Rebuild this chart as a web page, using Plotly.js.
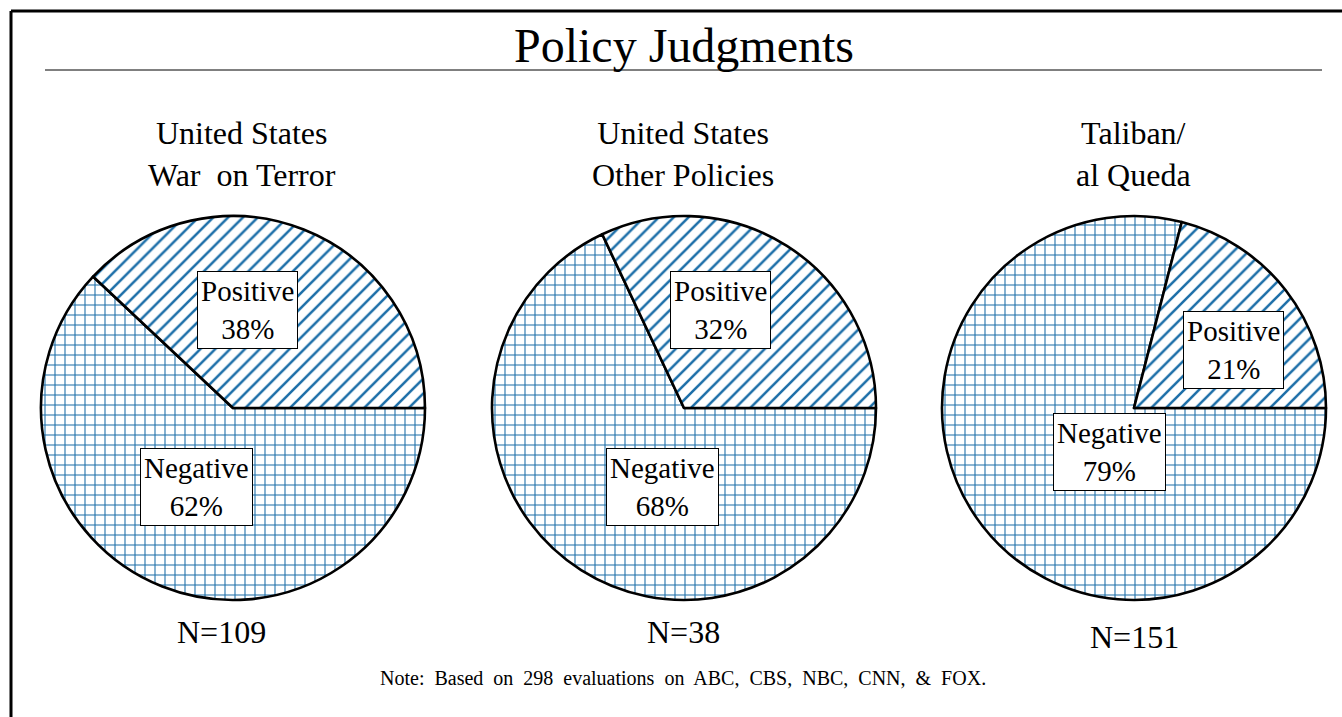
<!DOCTYPE html>
<html>
<head>
<meta charset="utf-8">
<script src="https://cdn.plot.ly/plotly-3.0.1.min.js"></script>
<style>html,body{margin:0;padding:0;background:#fff;}#chart{width:1342px;height:717px;}</style>
</head>
<body>
<div id="chart"></div>
<script>
// ---- data ----
const chartTitle = "Policy Judgments";
const pieTitles = ["United States<br>War&nbsp;&nbsp;on Terror", "United States<br>Other Policies", "Taliban/<br>al Queda"];
const categories = ["Positive", "Negative"];
const positiveValues = [38, 32, 21];
const negativeValues = [62, 68, 79];
const sampleSizes = [109, 38, 151];
const noteText = "Note:&nbsp; Based&nbsp; on&nbsp; 298&nbsp; evaluations&nbsp; on&nbsp; ABC,&nbsp; CBS,&nbsp; NBC,&nbsp; CNN,&nbsp; &amp;&nbsp; FOX.";

// ---- layout helpers ----
const W = 1342, H = 717;
const px = x => x / W;
const py = y => 1 - y / H;
const FONT = "Liberation Serif, Times New Roman, serif";
const HATCH = "#1b6ea8";

const pieBoxes = [[40, 426], [492, 876], [942, 1326]];
const pieTop = 216, pieBottom = 600;
const titleX = [242, 683, 1133];
const nPos = [[221, 632], [683, 632], [1134, 637]];
const posLabelPos = [[247, 310], [721, 310], [1233, 350]];
const negLabelPos = [[196, 487], [662, 487], [1109, 452]];

// Negative first, drawn clockwise from 3 o'clock, so Positive ends up rising from 3 o'clock
const traces = positiveValues.map((p, i) => ({
  type: "pie",
  values: [negativeValues[i], p],
  labels: [categories[1], categories[0]],
  sort: false,
  direction: "clockwise",
  rotation: 90,
  textinfo: "none",
  hoverinfo: "none",
  showlegend: false,
  domain: {x: [px(pieBoxes[i][0]), px(pieBoxes[i][1])], y: [py(pieBottom), py(pieTop)]},
  marker: {
    colors: ["#ffffff", "#ffffff"],
    line: {color: "#000", width: 2.6},
    pattern: {
      shape: ["+", "/"],
      fgcolor: HATCH,
      fgopacity: 1,
      bgcolor: "#ffffff",
      size: [10, 10.5],
      solidity: [0.2, 0.24],
      fillmode: "overlay"
    }
  }
}));

const annotations = [];
annotations.push({text: chartTitle, x: px(684), y: py(45), xref: "paper", yref: "paper",
  showarrow: false, xanchor: "center", yanchor: "middle", font: {family: FONT, size: 48, color: "#000"}});
pieTitles.forEach((t, i) => annotations.push({text: t, x: px(titleX[i]), y: py(154), xref: "paper", yref: "paper",
  showarrow: false, xanchor: "center", yanchor: "middle", font: {family: FONT, size: 32, color: "#000"}}));
sampleSizes.forEach((n, i) => annotations.push({text: "N=" + n, x: px(nPos[i][0]), y: py(nPos[i][1]), xref: "paper", yref: "paper",
  showarrow: false, xanchor: "center", yanchor: "middle", font: {family: FONT, size: 32, color: "#000"}}));
const boxStyle = {xref: "paper", yref: "paper", showarrow: false, xanchor: "center", yanchor: "middle",
  bgcolor: "#ffffff", bordercolor: "#000", borderwidth: 1, borderpad: 3,
  font: {family: FONT, size: 29, color: "#000"}};
positiveValues.forEach((v, i) => annotations.push(Object.assign({}, boxStyle,
  {text: categories[0] + "<br>" + v + "%", x: px(posLabelPos[i][0]), y: py(posLabelPos[i][1])})));
negativeValues.forEach((v, i) => annotations.push(Object.assign({}, boxStyle,
  {text: categories[1] + "<br>" + v + "%", x: px(negLabelPos[i][0]), y: py(negLabelPos[i][1])})));
annotations.push({text: noteText, x: px(683), y: py(678), xref: "paper", yref: "paper",
  showarrow: false, xanchor: "center", yanchor: "middle", font: {family: FONT, size: 20, color: "#000"}});

const shapes = [
  {type: "line", xref: "paper", yref: "paper", x0: px(11), x1: 1.2, y0: py(11), y1: py(11), line: {color: "#000", width: 3}},
  {type: "line", xref: "paper", yref: "paper", x0: px(11), x1: px(11), y0: py(11), y1: -0.2, line: {color: "#000", width: 3}},
  {type: "line", xref: "paper", yref: "paper", x0: px(45), x1: px(1322), y0: py(70), y1: py(70), line: {color: "#000", width: 1}}
];

Plotly.newPlot("chart", traces, {
  width: W, height: H,
  margin: {l: 0, r: 0, t: 0, b: 0},
  paper_bgcolor: "#fff",
  annotations: annotations,
  shapes: shapes,
  showlegend: false
}, {displayModeBar: false, staticPlot: true});
</script>
</body>
</html>
